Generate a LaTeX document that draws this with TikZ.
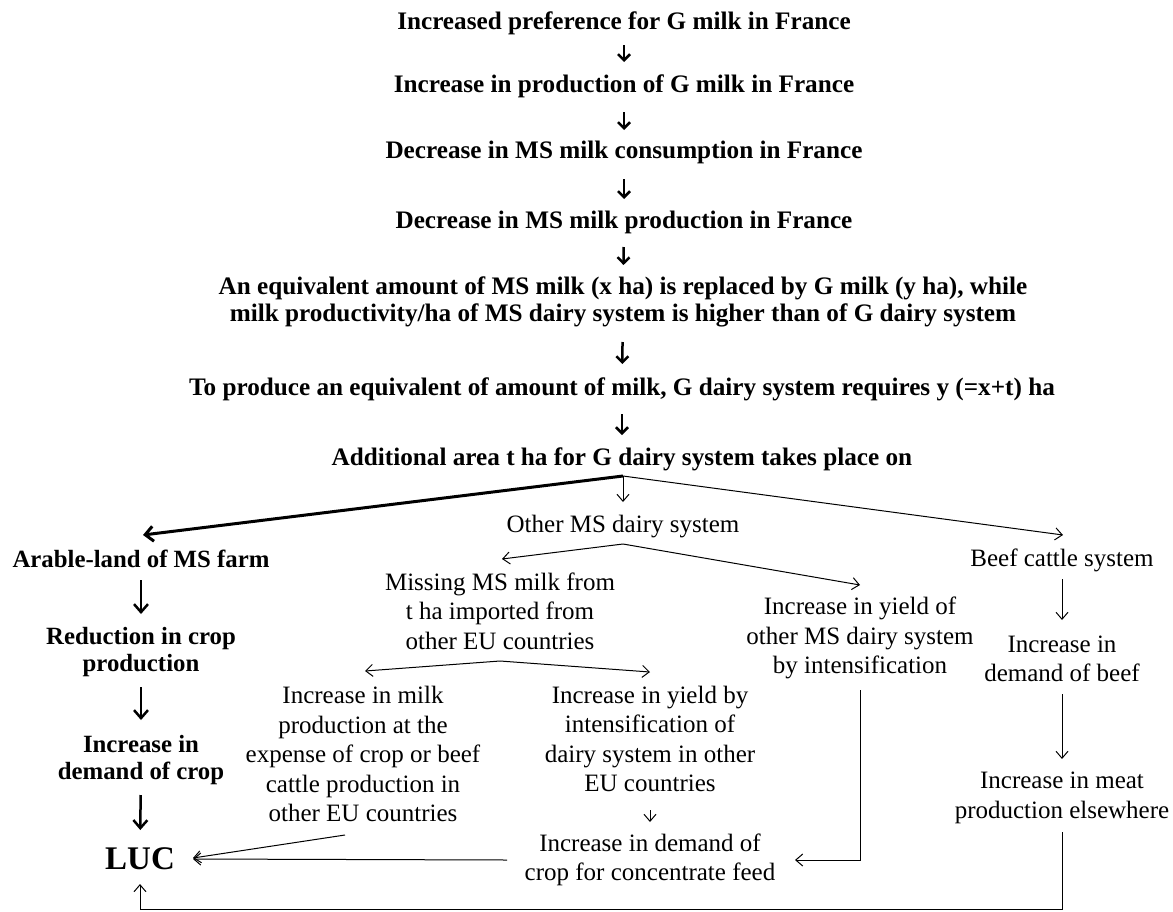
\documentclass[tikz,border=0pt]{standalone}
\usepackage{fontspec}
\setmainfont{Liberation Serif}
\usetikzlibrary{arrows.meta,calc}
\begin{document}
\begin{tikzpicture}[x=1pt,y=-1pt,
  bt/.style={font=\fontsize{25.2}{27}\selectfont\bfseries, align=center, inner sep=0pt},
  bl/.style={font=\fontsize{24.8}{27.5}\selectfont\bfseries, align=center, inner sep=0pt},
  rt/.style={font=\fontsize{25}{29.5}\selectfont, align=center, inner sep=0pt},
  bigarr/.style={line width=2.5pt, -{Straight Barb[length=6pt,width=12pt]}},
  leftarr/.style={line width=2.5pt, -{Straight Barb[length=8pt,width=14pt]}},
  diagarr/.style={line width=3pt, -{Straight Barb[length=8pt,width=15pt]}},
  thinarr/.style={line width=1pt, -{Straight Barb[length=7pt,width=12pt]}}
]
\useasboundingbox (0,0) rectangle (1173,911);

% top chain
\node[bt] (n1) at (624,23) {Increased preference for G milk in France};
\node[bt] (n2) at (624,86) {Increase in production of G milk in France};
\node[bt] (n3) at (624,152) {Decrease in MS milk consumption in France};
\node[bt] (n4) at (624,222) {Decrease in MS milk production in France};
\node[bt] (n5) at (623,302) {An equivalent amount of MS milk (x ha) is replaced by G milk (y ha), while\\milk productivity/ha of MS dairy system is higher than of G dairy system};
\node[bt] (n6) at (622,389) {To produce an equivalent of amount of milk, G dairy system requires y (=x+t) ha};
\node[bt] (n7) at (622,459) {Additional area t ha for G dairy system takes place on};
\coordinate (apex) at (623,476);

% left column
\node[bl] (arable) at (141,559) {Arable-land of MS farm};
\node[bl] (reduc) at (141,652) {Reduction in crop\\production};
\node[bl] (incr) at (141,760) {Increase in\\demand of crop};
\node[font=\fontsize{33}{36}\selectfont\bfseries, inner sep=0pt] (luc) at (140,859) {LUC};

% middle
\node[rt] (other) at (623,527) {Other MS dairy system};
\coordinate (apex2) at (623,544);
\node[rt] (missing) at (500,611) {Missing MS milk from\\t ha imported from\\other EU countries};
\coordinate (apex3) at (500,661);
\node[rt] (incmilk) at (363,754) {Increase in milk\\production at the\\expense of crop or beef\\cattle production in\\other EU countries};
\node[rt] (yieldby) at (650,739) {Increase in yield by\\intensification of\\dairy system in other\\EU countries};
\node[rt] (demand) at (650,860) {Increase in demand of\\crop for concentrate feed};
\node[rt] (yieldof) at (860,638) {Increase in yield of\\other MS dairy system\\by intensification};

% right
\node[rt] (beef) at (1062,560) {Beef cattle system};
\node[rt] (dbeef) at (1062,659) {Increase in\\demand of beef};
\node[rt] (meat) at (1062,798) {Increase in meat\\production elsewhere};

% top arrows
\draw[bigarr, shorten <=22pt, shorten >=24pt] (n1.center) -- (n2.center);
\draw[bigarr, shorten <=26pt, shorten >=22pt] (n2.center) -- (n3.center);
\draw[bigarr, shorten <=27pt, shorten >=23pt] (n3.center) -- (n4.center);
\draw[bigarr, shorten <=25pt, shorten >=37pt] (n4.center) -- (n5.center);
\draw[bigarr, shorten <=40pt, shorten >=25pt] (n5.center) -- (n6.center);
\draw[bigarr, shorten <=25pt, shorten >=24pt] (n6.center) -- (n7.center);

% branches from apex
\draw[diagarr] (apex) -- ([xshift=2pt,yshift=24pt]arable.center);
\draw[thinarr] (apex) -- ([yshift=25pt]other.center);
\draw[thinarr] (apex) -- ([xshift=1pt,yshift=25pt]beef.center);

% left column arrows
\draw[leftarr, shorten <=21pt, shorten >=38pt] (arable.center) -- (reduc.center);
\draw[leftarr, shorten <=35pt, shorten >=40pt] (reduc.center) -- (incr.center);
\draw[leftarr, shorten <=35pt, shorten >=29pt] (incr.center) -- (luc.center);

% other MS dairy system branches
\draw[thinarr] (apex2) -- ([xshift=2pt,yshift=52pt]missing.center);
\draw[thinarr] (apex2) -- ([yshift=53pt]yieldof.center);
\draw[thinarr] (apex3) -- ([xshift=2pt,yshift=83pt]incmilk.center);
\draw[thinarr] (apex3) -- ([yshift=67pt]yieldby.center);
\draw[thinarr, shorten <=71pt, shorten >=38pt] (yieldby.center) -- (demand.center);
\draw[thinarr] ([yshift=-52pt]yieldof.center) |- ([xshift=145pt]demand.center);
\draw[thinarr] ([xshift=-18pt,yshift=-81pt]incmilk.center) -- ([xshift=53pt,yshift=1pt]luc.center);
\draw[thinarr] ([xshift=-143pt]demand.center) -- ([xshift=53pt]luc.center);

% beef column
\draw[thinarr, shorten <=19pt, shorten >=39pt] (beef.center) -- (dbeef.center);
\draw[thinarr, shorten <=35pt, shorten >=39pt] (dbeef.center) -- (meat.center);
\draw[thinarr] ([yshift=-34pt]meat.center) -- ++(0,77) -| ([yshift=-25pt]luc.center);
\end{tikzpicture}
\end{document}
